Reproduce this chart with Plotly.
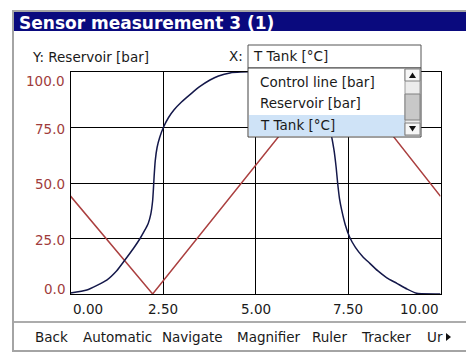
import plotly.graph_objects as go

# данные
tank_x = [0, 0.44, 0.98, 1.25, 1.47, 1.70, 1.88, 2.00, 2.10, 2.17, 2.22, 2.24, 2.26, 2.29, 2.34, 2.41,
          2.51, 2.65, 2.80, 3.00, 3.27, 3.50, 3.77, 4.00, 4.31, 4.60,
          5.00, 5.30, 5.70, 6.20, 6.60, 6.85, 7.04, 7.12, 7.18, 7.22, 7.27, 7.33, 7.43, 7.54, 7.70,
          7.90, 8.09, 8.30, 8.55, 8.82, 9.10, 9.36, 10.0]
tank_y = [0.5, 1.8, 6.3, 10.5, 15.3, 20.5, 25.0, 28.5, 31.8, 36.0, 42.0, 47.0, 53.0, 60.0, 66.0, 70.5,
          75.0, 79.5, 83.0, 86.5, 90.4, 93.5, 96.4, 98.2, 99.6, 100.0,
          100.0, 99.5, 97.0, 91.5, 85.0, 79.0, 72.0, 65.0, 57.0, 50.0, 43.0, 37.8, 31.0, 25.8, 21.0,
          16.8, 13.8, 10.5, 7.3, 4.8, 2.2, 0.3, 0.0]
reservoir_x = [0, 2.22, 7.19, 10.0]
reservoir_y = [44.1, 0.0, 103.5, 44.0]

x_ticks = [0, 2.5, 5, 7.5, 10]
x_labels = ["0.00", "2.50", "5.00", "7.50", "10.00"]
y_ticks = [0, 25, 50, 75, 100]
y_labels = ["0.0", "25.0", "50.0", "75.0", "100.0"]

title = "Sensor measurement 3 (1)"
y_name = "Y: Reservoir [bar]"
x_name = "T Tank [°C]"
channels = ["Control line [bar]", "Reservoir [bar]", "T Tank [°C]"]
menu = ["Back", "Automatic", "Navigate", "Magnifier", "Ruler", "Tracker", "Ur"]
menu_x = [33, 81, 160, 235, 310, 359, 425]

W, H = 466, 352
FONT = "DejaVu Sans"


def px(x):
    return x / W


def py(y):
    return 1 - y / H


def rect(x0, y0, x1, y1, fill, line=None, lw=1, layer="above"):
    return dict(type="rect", xref="paper", yref="paper", x0=px(x0), x1=px(x1), y0=py(y0), y1=py(y1),
                fillcolor=fill, line=dict(color=line or fill, width=lw if line else 0), layer=layer)


def path(points, fill):
    d = "M " + " L ".join(f"{px(a)} {py(b)}" for a, b in points) + " Z"
    return dict(type="path", xref="paper", yref="paper", path=d, fillcolor=fill,
                line=dict(width=0), layer="above")


def text(x, y, s, size=13.5, color="#1a1a1a", anchor="left", bold=False):
    return dict(xref="paper", yref="paper", x=px(x), y=py(y), text=f"<b>{s}</b>" if bold else s,
                showarrow=False, xanchor=anchor, yanchor="middle",
                font=dict(family=FONT, size=size, color=color))


fig = go.Figure()
fig.add_trace(go.Scatter(x=reservoir_x, y=reservoir_y, mode="lines",
                         line=dict(color="#ab4040", width=1.5), hoverinfo="skip"))
fig.add_trace(go.Scatter(x=tank_x, y=tank_y, mode="lines",
                         line=dict(color="#14184a", width=1.5, shape="spline", smoothing=0.5),
                         hoverinfo="skip"))

shapes = [
    # рамка окна и заголовок
    rect(13, 11, 472, 351, "rgba(0,0,0,0)", "#a4a4a4", 2, layer="below"),
    rect(14, 12, 470, 31, "#0a0a7e"),
    dict(type="line", xref="paper", yref="paper", x0=px(14), x1=px(470), y0=py(322), y1=py(322),
         line=dict(color="#5a5a5a", width=1.2)),
    # выпадающий список
    rect(248, 45, 421, 68, "white", "#555555", 1),
    rect(248, 68, 421, 137, "white", "#404040", 1),
    rect(249, 115, 405, 136, "#cfe3f7"),
    rect(405, 69, 420, 136, "#ececec", "#9a9a9a", 1),
    rect(405, 69, 420, 81, "#f6f6f6", "#808080", 1),
    rect(405, 94, 420, 120, "#c8c8c8", "#808080", 1),
    rect(405, 123, 420, 135, "#f6f6f6", "#808080", 1),
    path([(409, 78), (416, 78), (412.5, 72.5)], "#111111"),
    path([(409, 126), (416, 126), (412.5, 131.5)], "#111111"),
    # стрелка меню
    path([(446, 333), (446, 341), (451, 337)], "#111111"),
]

ann = [text(17, 22.5, title, size=17, color="white", bold=True),
       text(30, 57, y_name),
       text(227, 56, "X:"),
       text(251, 56, x_name)]
for i, ch in enumerate(channels):
    ann.append(text(258, 82 + i * 21.5, ch))
for name, mx in zip(menu, menu_x):
    ann.append(text(mx, 337, name))

# подписи осей
for i, (v, s) in enumerate(zip(x_ticks, x_labels)):
    a = "left" if i == 0 else "right" if i == len(x_ticks) - 1 else "center"
    ann.append(dict(xref="x", yref="paper", x=v, y=py(308.5), text=s, showarrow=False,
                    xanchor=a, yanchor="middle", font=dict(family=FONT, size=13.5, color="#1a1a1a")))
for i, (v, s) in enumerate(zip(y_ticks, y_labels)):
    shift = 5.5 if i == 0 else -9 if i == len(y_ticks) - 1 else -1
    ann.append(dict(xref="paper", yref="y", x=px(66.5), y=v, text=s, showarrow=False,
                    xanchor="right", yanchor="middle", yshift=shift,
                    font=dict(family=FONT, size=13.5, color="#a03c3c")))

fig.update_xaxes(domain=[px(70.5), px(440.5)], range=[0, 10], tickvals=x_ticks, showticklabels=False,
                 showgrid=True, gridcolor="black", gridwidth=1, zeroline=False,
                 showline=True, linecolor="black", linewidth=1, mirror=True)
fig.update_yaxes(domain=[py(294), py(72)], range=[0, 100], tickvals=y_ticks, showticklabels=False,
                 showgrid=True, gridcolor="black", gridwidth=1, zeroline=False,
                 showline=True, linecolor="black", linewidth=1, mirror=True)

fig.update_layout(width=W, height=H, margin=dict(l=0, r=0, t=0, b=0), showlegend=False,
                  paper_bgcolor="white", plot_bgcolor="white", shapes=shapes, annotations=ann)

# убираем отступ страницы, чтобы рисунок совпал с окном
fig.write_html("out.html", config={"displayModeBar": False},
               post_script="document.body.style.margin='0';")
